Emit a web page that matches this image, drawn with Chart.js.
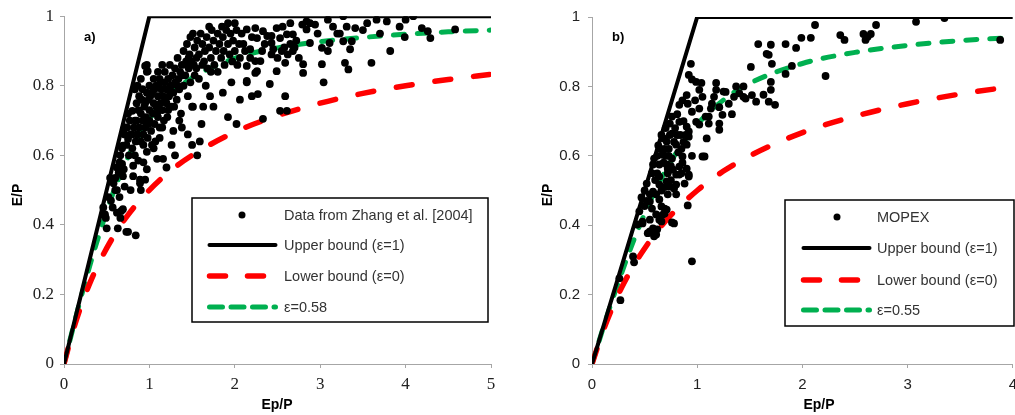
<!DOCTYPE html>
<html>
<head>
<meta charset="utf-8">
<script src="https://cdn.jsdelivr.net/npm/chart.js@4.4.1/dist/chart.umd.min.js"></script>
<style>
    body { margin: 0; background: #fff; width: 1015px; height: 415px; overflow: hidden; position: relative; }
    .panel { position: absolute; top: 0; height: 415px; }
</style>
</head>
<body>
<div class="panel" style="left:0;width:515px"><canvas id="chartA" width="515" height="415"></canvas></div>
<div class="panel" style="left:515px;width:510px"><canvas id="chartB" width="510" height="415"></canvas></div>
<script>
// Curves (Ep/P -> E/P)
const curveXA = [0, 0.1, 0.2, 0.3, 0.4, 0.5, 0.6, 0.75, 1, 1.25, 1.5, 2, 2.5, 3, 3.5, 4, 4.5, 5];
const lowerYA = [0, 0.091, 0.167, 0.231, 0.286, 0.333, 0.375, 0.429, 0.5, 0.556, 0.6, 0.667, 0.714, 0.75, 0.778, 0.8, 0.818, 0.833];
const eps58Y  = [0, 0.098, 0.192, 0.281, 0.363, 0.439, 0.508, 0.595, 0.704, 0.776, 0.823, 0.879, 0.909, 0.927, 0.939, 0.948, 0.955, 0.96];

const curveXB = [0, 0.1, 0.2, 0.3, 0.4, 0.5, 0.6, 0.75, 1, 1.25, 1.5, 2, 2.5, 3, 3.5, 4];
const lowerYB = [0, 0.091, 0.167, 0.231, 0.286, 0.333, 0.375, 0.429, 0.5, 0.556, 0.6, 0.667, 0.714, 0.75, 0.778, 0.8];
const eps55Y  = [0, 0.098, 0.191, 0.278, 0.359, 0.433, 0.499, 0.584, 0.69, 0.761, 0.809, 0.866, 0.898, 0.918, 0.932, 0.941];

const upperXA = [0, 1, 5];
const upperXB = [0, 1, 4];
const upperY  = [0, 1, 1];

const legendA = ['Data from Zhang et al. [2004]', 'Upper bound (\u03b5=1)', 'Lower bound (\u03b5=0)', '\u03b5=0.58'];
const legendB = ['MOPEX', 'Upper bound (\u03b5=1)', 'Lower bound (\u03b5=0)', '\u03b5=0.55'];

// Scatter points a) [Ep/P, E/P]
const zhangPoints = [
    // lower tail
    [0.49,0.42],[0.50,0.39],[0.48,0.43],[0.55,0.47],[0.57,0.45],[0.62,0.435],[0.63,0.39],[0.66,0.42],[0.67,0.44],
    [0.69,0.445],[0.73,0.38],[0.84,0.37],[0.75,0.38],[0.60,0.50],[0.62,0.50],[0.71,0.51],[0.54,0.535],[0.60,0.535],
    [0.69,0.54],[0.81,0.54],[0.89,0.52],[0.95,0.53],[0.46,0.45],[0.52,0.48],[0.58,0.52],[0.65,0.48],[0.78,0.5],[0.9,0.5],
    // along the upper bound
    [0.62,0.565],[0.65,0.58],[0.68,0.575],[0.68,0.62],[0.69,0.628],[0.71,0.66],[0.71,0.68],[0.74,0.68],[0.75,0.647],
    [0.75,0.72],[0.77,0.70],[0.8,0.728],[0.8,0.62],[0.81,0.57],[0.83,0.6],[0.83,0.7],[0.83,0.79],[0.85,0.75],[0.87,0.585],
    [0.86,0.8],[0.88,0.77],[0.9,0.82],[0.92,0.79],[0.93,0.58],[0.95,0.857],[0.97,0.86],[0.97,0.84],[0.98,0.842],[0.97,0.56],
    [0.97,0.61],[0.89,0.53],[0.66,0.6],[0.73,0.63],[0.78,0.66],[0.76,0.6],[0.7,0.56],[0.64,0.55],
    // main cluster
    [0.8,0.66],[0.82,0.68],[0.84,0.64],[0.85,0.7],[0.86,0.66],[0.88,0.68],[0.9,0.72],[0.9,0.64],[0.92,0.7],[0.93,0.66],
    [0.94,0.74],[0.95,0.68],[0.96,0.71],[0.98,0.65],[0.99,0.76],[1.0,0.7],[1.0,0.73],[1.02,0.67],[1.03,0.78],[1.04,0.72],
    [1.05,0.75],[1.06,0.69],[1.07,0.64],[1.08,0.8],[1.08,0.74],[1.1,0.77],[1.1,0.71],[1.12,0.82],[1.12,0.68],[1.13,0.75],
    [1.14,0.79],[1.15,0.73],[1.16,0.77],[1.17,0.7],[1.18,0.81],[1.18,0.84],[1.2,0.75],[1.2,0.79],[1.21,0.71],[1.22,0.82],
    [1.23,0.77],[1.24,0.86],[1.25,0.8],[1.26,0.74],[1.27,0.83],[1.28,0.78],[1.28,0.67],[1.3,0.81],[1.3,0.85],[1.32,0.76],
    [1.33,0.88],[1.34,0.82],[1.35,0.79],[1.36,0.84],[1.37,0.72],[1.38,0.68],[1.38,0.86],[1.4,0.8],[1.4,0.9],[1.42,0.83],
    [1.43,0.87],[1.45,0.77],[1.46,0.85],[1.47,0.89],[1.48,0.81],[1.5,0.74],[1.5,0.63],[1.51,0.74],[1.52,0.86],[1.53,0.83],
    [1.55,0.88],[1.56,0.6],[1.59,0.64],[1.63,0.74],[1.05,0.62],[1.09,0.59],[1.16,0.59],[1.2,0.565],[1.26,0.63],[1.3,0.6],
    [1.03,0.63],[1.12,0.65],[0.97,0.78],[1.0,0.8],[1.05,0.82],[1.1,0.84],[1.15,0.86],
    [0.87,0.73],[0.91,0.76],[0.95,0.75],[1.01,0.77],[1.06,0.79],[1.09,0.72],[1.13,0.81],[1.19,0.76],[1.24,0.79],
    [1.29,0.74],[1.33,0.8],[1.39,0.83],[1.44,0.86],[1.49,0.87],[1.22,0.73],[1.15,0.68],[0.93,0.63],[0.99,0.69],
    // upper cluster
    [1.44,0.92],[1.48,0.94],[1.51,0.95],[1.53,0.91],[1.56,0.93],[1.58,0.89],[1.6,0.95],[1.62,0.92],[1.64,0.87],[1.65,0.9],
    [1.67,0.94],[1.68,0.85],[1.7,0.91],[1.72,0.88],[1.73,0.96],[1.75,0.93],[1.76,0.86],[1.78,0.9],[1.8,0.95],[1.8,0.84],
    [1.82,0.92],[1.84,0.88],[1.86,0.94],[1.87,0.9],[1.88,0.86],[1.9,0.96],[1.92,0.98],[1.92,0.92],[1.94,0.89],[1.95,0.95],
    [1.96,0.81],[1.97,0.87],[1.98,0.93],[2.0,0.9],[2.02,0.96],[2.03,0.86],[2.05,0.92],[2.06,0.88],[2.08,0.95],[2.1,0.92],
    [2.12,0.9],[2.14,0.962],[2.14,0.857],[2.14,0.814],[2.18,0.905],[2.18,0.88],[2.2,0.94],[2.24,0.966],[2.24,0.837],
    [2.24,0.871],[2.26,0.937],[2.26,0.842],[2.3,0.871],[2.32,0.9],[2.33,0.957],[2.35,0.92],[2.38,0.943],[1.58,0.82],
    [1.66,0.8],[1.72,0.84],[1.62,0.86],[1.55,0.85],[1.7,0.97],[1.85,0.97],[2.0,0.98],[1.46,0.88],
    // below the band
    [1.71,0.77],[1.75,0.74],[1.92,0.71],[2.02,0.69],[2.06,0.76],[2.2,0.77],[2.27,0.776],[2.41,0.805],[2.59,0.77],
    [2.61,0.728],[2.53,0.728],[2.33,0.705],[2.14,0.81],[1.86,0.78],[1.61,0.69],[1.45,0.66],[1.35,0.7],
    // right cluster
    [2.43,0.943],[2.43,0.923],[2.45,0.905],[2.43,0.89],[2.49,0.966],[2.49,0.842],[2.53,0.937],[2.55,0.9],[2.56,0.97],
    [2.59,0.866],[2.61,0.948],[2.62,0.89],[2.65,0.98],[2.65,0.92],[2.68,0.948],[2.7,0.91],[2.72,0.93],[2.75,0.88],
    [2.79,0.976],[2.8,0.862],[2.8,0.837],[2.84,0.985],[2.84,0.962],[2.88,0.98],[2.88,0.923],[2.94,0.976],[3.02,0.909],
    [3.02,0.862],[3.04,0.81],[3.09,0.99],[3.09,0.9],[3.11,0.923],[3.2,0.95],[3.23,0.95],[3.27,1.0],[3.27,0.928],
    [3.29,0.866],[3.31,0.97],[3.33,0.847],[3.35,0.905],[3.37,0.928],[3.41,0.966],[2.5,0.88],[2.58,0.91],[2.68,0.9],
    [2.97,0.95],[3.15,0.97],
    // far right
    [3.55,0.98],[3.6,0.866],[3.66,0.99],[3.7,0.95],[3.78,0.985],[3.82,0.9],[3.93,0.97],[3.99,0.94],[4.09,1.0],
    [4.19,0.966],[4.26,0.957],[4.29,0.937],[4.58,0.962],[3.5,0.96],[4.0,0.99]
];

// Scatter points b) [Ep/P, E/P]
const mopexPoints = [
    // lower part
    [0.26,0.247],[0.27,0.184],[0.39,0.31],[0.40,0.293],[0.95,0.296],[0.43,0.402],[0.48,0.41],[0.53,0.377],[0.58,0.391],
    [0.61,0.373],[0.59,0.368],[0.62,0.388],[0.55,0.382],[0.55,0.416],[0.64,0.416],[0.66,0.411],[0.67,0.43],[0.71,0.445],
    [0.76,0.408],[0.78,0.405],[0.66,0.454],[0.69,0.448],[0.69,0.434],[0.61,0.431],[0.57,0.448],[0.55,0.468],[0.64,0.474],
    [0.91,0.457],[0.48,0.405],[0.45,0.44],[0.5,0.455],[0.52,0.47],[0.47,0.48],
    // dense middle
    [0.55,0.489],[0.61,0.489],[0.72,0.489],[0.8,0.489],[0.58,0.497],[0.64,0.517],[0.74,0.511],[0.8,0.517],[0.64,0.54],
    [0.8,0.546],[0.92,0.54],[0.58,0.575],[0.71,0.575],[0.83,0.569],[0.9,0.563],[0.62,0.549],[0.64,0.575],[0.59,0.592],
    [0.72,0.563],[0.71,0.526],[0.78,0.506],[0.88,0.52],[0.83,0.546],[0.92,0.546],[0.67,0.603],[0.76,0.592],[0.86,0.598],
    [0.71,0.641],[0.8,0.632],[0.9,0.632],[0.92,0.655],[0.76,0.664],[0.74,0.693],[0.83,0.698],[0.9,0.684],[0.99,0.698],
    [0.76,0.713],[0.92,0.67],[1.02,0.69],[0.62,0.6],[0.65,0.62],[0.68,0.65],[0.7,0.6],[0.73,0.62],[0.78,0.64],[0.82,0.61],
    [0.84,0.66],[0.87,0.64],[0.7,0.68],[0.66,0.66],[0.72,0.55],[0.68,0.58],[0.75,0.57],[0.86,0.58],[0.69,0.51],[0.6,0.53],
    [0.57,0.55],[0.52,0.52],[0.5,0.5],[0.75,0.53],[0.85,0.55],[0.63,0.63],[0.79,0.68],[0.87,0.7],[0.81,0.72],[0.95,0.6],
    [0.66,0.5],[0.73,0.6],[0.77,0.56],[0.81,0.66],[0.85,0.62],[0.89,0.66],[0.69,0.62],[0.74,0.66],
    // upper part
    [0.83,0.747],[0.94,0.865],[0.92,0.833],[0.95,0.82],[0.99,0.813],[1.04,0.81],[1.02,0.79],[0.9,0.775],[0.86,0.76],
    [0.91,0.75],[0.95,0.727],[1.02,0.736],[1.05,0.77],[1.08,0.713],[1.11,0.713],[1.13,0.736],[1.14,0.75],[1.16,0.77],
    [1.18,0.81],[1.18,0.79],[1.21,0.74],[1.24,0.718],[1.21,0.693],[1.11,0.693],[1.21,0.675],[1.09,0.65],[1.05,0.598],
    [1.07,0.598],[1.25,0.785],[1.27,0.784],[1.33,0.72],[1.35,0.77],[1.37,0.8],[1.44,0.8],[1.44,0.77],[1.46,0.765],
    [1.51,0.856],[1.52,0.775],[1.56,0.756],[1.58,0.922],[1.63,0.776],[1.66,0.894],[1.68,0.891],[1.68,0.756],[1.7,0.92],
    [1.71,0.865],[1.7,0.813],[1.7,0.79],[1.74,0.747],[1.84,0.922],[1.84,0.836],[1.9,0.859],[1.94,0.911],[1.99,0.94],
    [2.08,0.94],[2.12,0.977],[2.22,0.83],[2.36,0.948],[2.4,0.934],[2.58,0.951],[2.6,0.934],[2.62,0.943],[2.65,0.951],
    [2.7,0.977],[3.08,0.986],[3.35,0.997],[3.88,0.934],[1.3,0.75],[1.4,0.78],[0.98,0.76]
];

const toXY = (xs, ys) => xs.map((x, i) => ({ x: x, y: ys[i] }));
const toPts = list => list.map(p => ({ x: p[0], y: p[1] }));

const sansFont = '"Liberation Sans", Arial, sans-serif';
const serifFont = '"Liberation Serif", "Times New Roman", serif';
const axisGray = '#a6a6a6';

// Draws the panel tag, axis titles and the boxed legend
const overlayPlugin = {
    id: 'overlay',
    afterDraw(chart, args, o) {
        const ctx = chart.ctx;
        ctx.save();
        ctx.fillStyle = '#000';
        ctx.textBaseline = 'middle';

        ctx.font = 'bold 13px ' + sansFont;
        ctx.textAlign = 'left';
        ctx.fillText(o.tag, o.tagX, o.tagY);

        ctx.font = 'bold 14px ' + sansFont;
        ctx.textAlign = 'center';
        ctx.fillText('Ep/P', o.xTitleX, o.xTitleY);
        ctx.save();
        ctx.translate(o.yTitleX, o.yTitleY);
        ctx.rotate(-Math.PI / 2);
        ctx.fillText('E/P', 0, 0);
        ctx.restore();

        // legend box
        const b = o.box;
        ctx.fillStyle = '#fff';
        ctx.fillRect(b.left, b.top, b.right - b.left, b.bottom - b.top);
        ctx.strokeStyle = '#000';
        ctx.lineWidth = 1.5;
        ctx.strokeRect(b.left, b.top, b.right - b.left, b.bottom - b.top);

        const ds = chart.data.datasets;
        o.labels.forEach((label, i) => {
            const y = o.rows[i];
            const d = ds[i];
            ctx.save();
            if (i === 0) {
                ctx.fillStyle = '#000';
                ctx.beginPath();
                ctx.arc(o.dotX, y, 3.5, 0, Math.PI * 2);
                ctx.fill();
            } else {
                ctx.strokeStyle = d.borderColor;
                ctx.lineWidth = d.borderWidth;
                ctx.lineCap = 'round';
                ctx.setLineDash(o.legendDash[i] || []);
                ctx.beginPath();
                ctx.moveTo(o.lineX1 + 2.5, y);
                ctx.lineTo(o.lineX2 - 2.5, y);
                ctx.stroke();
            }
            ctx.restore();
            ctx.fillStyle = '#333';
            ctx.font = '14.5px ' + sansFont;
            ctx.textAlign = 'left';
            ctx.textBaseline = 'middle';
            ctx.fillText(label, o.textX, y + 1);
        });
        ctx.restore();
    }
};

function makeScales(xMax, yWidth, tickFont, tickPad) {
    const grid = { drawOnChartArea: false, tickLength: 4, color: axisGray };
    const border = { display: true, color: axisGray, width: 1 };
    return {
        x: {
            type: 'linear', min: 0, max: xMax,
            ticks: { stepSize: 1, font: tickFont, color: '#222', padding: tickPad },
            grid: grid, border: border,
            afterFit: s => { s.height = 51; }
        },
        y: {
            type: 'linear', min: 0, max: 1,
            ticks: {
                stepSize: 0.2, font: tickFont, color: '#222', padding: tickPad,
                callback: v => Math.round(v * 10) / 10
            },
            grid: grid, border: border,
            afterFit: s => { s.width = yWidth; }
        }
    };
}

function makeDatasets(points, upperX, curveX, lowerY, epsY) {
    return [
        { type: 'scatter', data: toPts(points), backgroundColor: '#000', borderWidth: 0, pointRadius: 3.9 },
        { type: 'line', data: toXY(upperX, upperY), borderColor: '#000', borderWidth: 4, pointRadius: 0, tension: 0 },
        { type: 'line', data: toXY(curveX, lowerY), borderColor: '#ff0000', borderWidth: 5.5, borderDash: [16, 23],
          borderCapStyle: 'round', pointRadius: 0, cubicInterpolationMode: 'monotone' },
        { type: 'line', data: toXY(curveX, epsY), borderColor: '#00b050', borderWidth: 5, borderDash: [11, 13],
          borderCapStyle: 'round', pointRadius: 0, cubicInterpolationMode: 'monotone' }
    ];
}

const commonPlugins = { legend: { display: false }, tooltip: { enabled: false } };

new Chart(document.getElementById('chartA'), {
    type: 'scatter',
    data: { datasets: makeDatasets(zhangPoints, upperXA, curveXA, lowerYA, eps58Y) },
    options: {
        responsive: false,
        animation: false,
        layout: { padding: { left: 0, right: 24, top: 15, bottom: 0 } },
        scales: makeScales(5, 64, { family: serifFont, size: 17 }, 6),
        plugins: {
            ...commonPlugins,
            overlay: {
                tag: 'a)', tagX: 84, tagY: 37,
                xTitleX: 277, xTitleY: 405, yTitleX: 18, yTitleY: 195,
                box: { left: 192, top: 198, right: 488, bottom: 322 },
                rows: [215, 245, 276, 307],
                dotX: 242, lineX1: 207, lineX2: 278, textX: 284,
                labels: legendA,
                legendDash: [null, [], [16, 22], [13, 8.5]]
            }
        }
    },
    plugins: [overlayPlugin]
});

new Chart(document.getElementById('chartB'), {
    type: 'scatter',
    data: { datasets: makeDatasets(mopexPoints, upperXB, curveXB, lowerYB, eps55Y) },
    options: {
        responsive: false,
        animation: false,
        layout: { padding: { left: 0, right: 9, top: 15, bottom: 0 } },
        scales: makeScales(4, 77, { family: sansFont, size: 15 }, 8),
        plugins: {
            ...commonPlugins,
            overlay: {
                tag: 'b)', tagX: 97, tagY: 37,
                xTitleX: 304, xTitleY: 405, yTitleX: 33, yTitleY: 195,
                box: { left: 270, top: 200, right: 499, bottom: 326 },
                rows: [217, 248, 280, 310],
                dotX: 322, lineX1: 286, lineX2: 357, textX: 362,
                labels: legendB,
                legendDash: [null, [], [16, 22], [13, 8.5]]
            }
        }
    },
    plugins: [overlayPlugin]
});
</script>
</body>
</html>
